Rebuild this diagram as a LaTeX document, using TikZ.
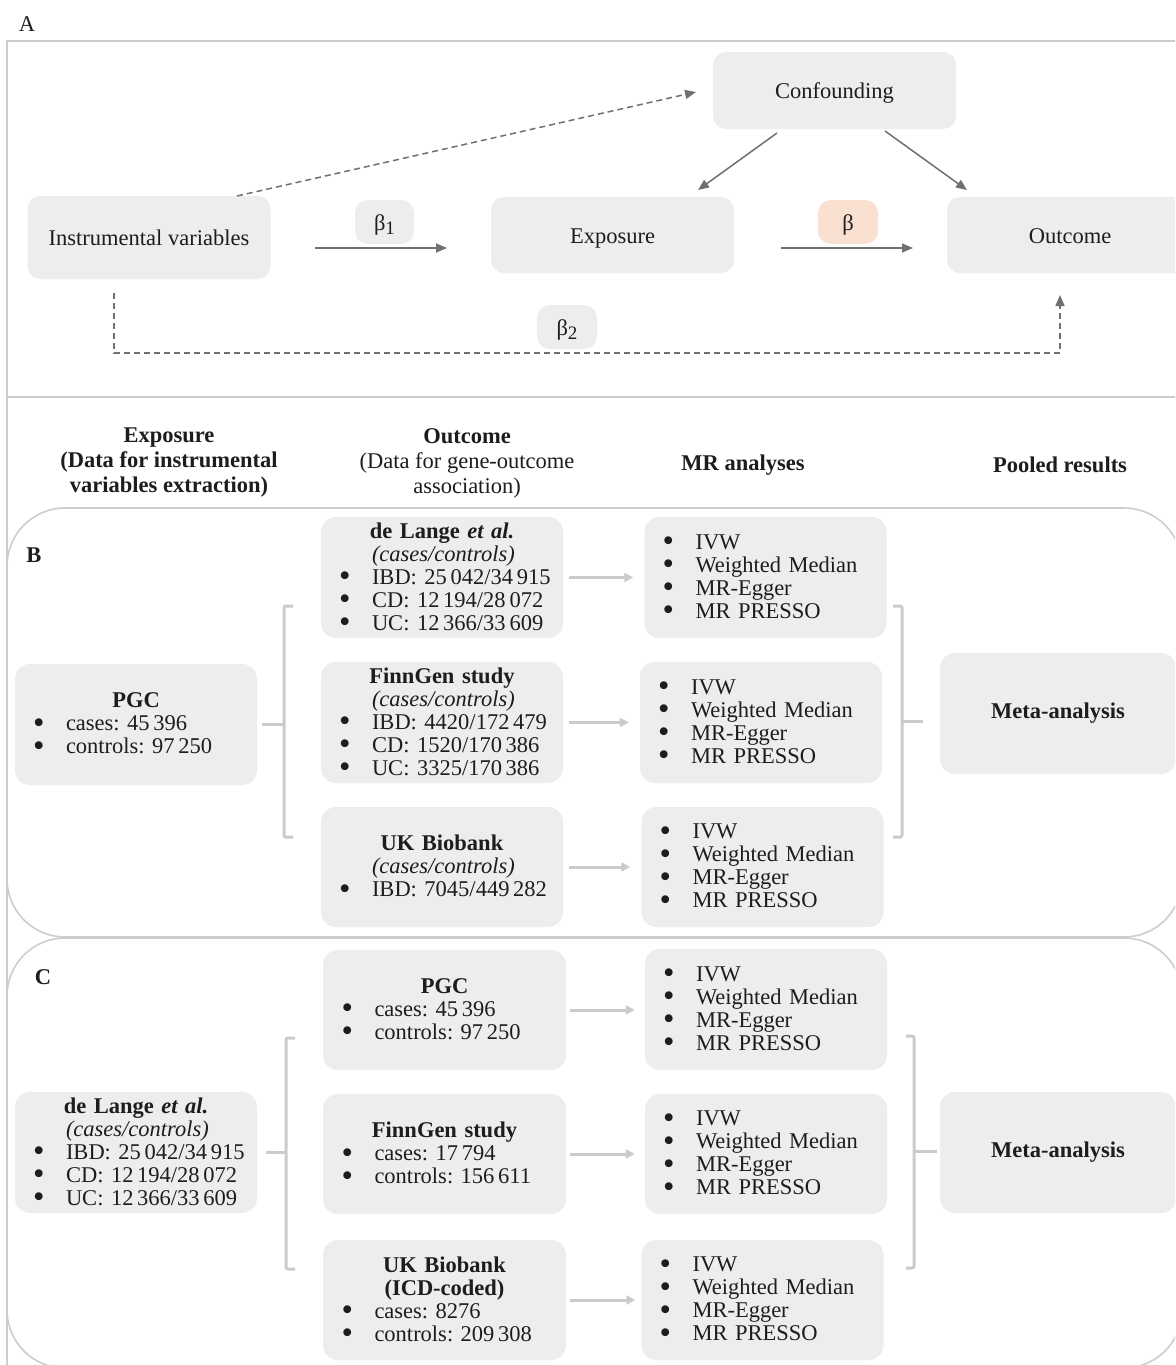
\documentclass[tikz,border=0pt]{standalone}
\usepackage{fontspec}
\setmainfont{Liberation Serif}
\usetikzlibrary{arrows.meta}
\definecolor{boxgray}{HTML}{EDEDED}
\definecolor{peach}{HTML}{F9E0D0}
\definecolor{framegray}{HTML}{CDCDCD}
\definecolor{conngray}{HTML}{CBCBCB}
\definecolor{arrgray}{HTML}{6F7072}
\definecolor{txt}{HTML}{1E1C1D}
\newcommand{\bu}[1]{\mbox{\makebox[33pt][l]{\raisebox{-2.6pt}{\scalebox{1.45}{\textbullet}}}#1}}
\newcommand{\ttl}[1]{\makebox[206pt][c]{#1}}
\newcommand{\ind}[1]{\mbox{\hspace*{33pt}#1}}
\newcommand{\mrlist}{\bu{IVW}\\\bu{Weighted Median}\\\bu{MR-Egger}\\\bu{MR PRESSO}}
\newcommand{\sub}[1]{\raisebox{-4.5pt}{\fontsize{19}{19}\selectfont #1}}
\begin{document}
\frenchspacing
\begin{tikzpicture}[x=1pt,y=-1pt,
  every node/.style={text=txt, font=\fontsize{22.5}{23}\selectfont},
  box/.style={fill=boxgray, rounded corners=13pt, inner sep=0pt, align=center, text height=16pt, text depth=0pt},
  lbox/.style={fill=boxgray, rounded corners=15pt, inner xsep=18pt, inner ysep=0pt, text width=206pt, align=left, minimum width=242pt, minimum height=121pt},
  mbox/.style={fill=boxgray, rounded corners=15pt, inner sep=0pt, align=center, minimum width=236pt, minimum height=121pt, font=\fontsize{22.5}{23}\selectfont\bfseries},
  frame/.style={draw=framegray, line width=1.8pt},
  darr/.style={draw=arrgray, line width=1.5pt, -{Triangle[length=11pt,width=9pt]}},
  dsh/.style={dash pattern=on 6pt off 4pt},
  conn/.style={draw=conngray, line width=3pt, rounded corners=2pt},
  carr/.style={draw=conngray, line width=3pt, -{Triangle[length=9pt,width=9pt]}},
  hdr/.style={font=\fontsize{22.5}{25}\selectfont, align=center},
  lbl/.style={font=\fontsize{22.5}{23}\selectfont}
]
\useasboundingbox (0,0) rectangle (1175,1365);
\clip (0,0) rectangle (1175,1365);
\fill[white] (0,0) rectangle (1175,1365);

% ---------- frames ----------
\draw[frame] (7,1370) -- (7,41) -- (1180,41);
\draw[frame] (7,397) -- (1180,397);
\draw[frame, line width=1.6pt, rounded corners=58pt] (7,508) rectangle (1182,937);
\draw[frame, line width=1.6pt, rounded corners=58pt] (7,938) rectangle (1182,1368);

% ---------- panel A ----------
\node[lbl] (labA) at (27,24) {A};
\node[box, minimum width=243pt, minimum height=83pt] (iv) at (149,237.5) {Instrumental variables};
\node[box, minimum width=59pt, minimum height=44pt] (b1) at (384.5,222) {β\sub{1}};
\node[box, minimum width=243pt, minimum height=76pt] (expo) at (612.5,235) {Exposure};
\node[box, minimum width=243pt, minimum height=77pt] (conf) at (834.5,90.5) {Confounding};
\node[box, fill=peach, minimum width=60pt, minimum height=44pt] (bb) at (848,222) {β};
\node[box, minimum width=246pt, minimum height=76pt] (outc) at (1070,235) {Outcome};
\node[box, minimum width=60pt, minimum height=44pt] (b2) at (567,327) {β\sub{2}};

\coordinate (a1s) at (315,248); \coordinate (a1e) at (447,248);
\coordinate (a2s) at (781,248); \coordinate (a2e) at (913,248);
\coordinate (ivt) at (237,196); \coordinate (confl) at (696,92);
\coordinate (ce1) at (777,133); \coordinate (ce2) at (698,190);
\coordinate (co1) at (885,131); \coordinate (co2) at (967,190);
\coordinate (p1) at (114,293); \coordinate (p2) at (114,353);
\coordinate (p3) at (1060,353); \coordinate (p4) at (1060,295);

\draw[darr] (a1s) -- (a1e);
\draw[darr] (a2s) -- (a2e);
\draw[darr, dsh] (ivt) -- (confl);
\draw[darr] (ce1) -- (ce2);
\draw[darr] (co1) -- (co2);
\draw[darr, dsh] (p1) -- (p2) -- (p3) -- (p4);

% ---------- headers ----------
\node[hdr, font=\fontsize{22.5}{25}\selectfont\bfseries] (hExp) at (169,463) {Exposure\\(Data for instrumental\\variables extraction)};
\node[hdr] (hOut) at (467,463) {\textbf{Outcome}\\(Data for gene-outcome\\association)};
\node[hdr, font=\fontsize{22.5}{25}\selectfont\bfseries] (hMR) at (743,465) {MR analyses};
\node[hdr, font=\fontsize{22.5}{25}\selectfont\bfseries] (hPool) at (1060,465) {Pooled results};

% ---------- panel B ----------
\node[lbl, font=\fontsize{22.5}{23}\selectfont\bfseries] (labB) at (34,555) {B};
\node[lbox] (bPGC) at (136,724.5) {\ttl{\textbf{PGC}}\\\bu{cases: 45\,396}\\\bu{controls: 97\,250}};
\node[lbox] (bLange) at (442,577.5) {\ttl{\textbf{de Lange \textit{et al.}}}\\\ind{\textit{(cases/controls)}}\\\bu{IBD: 25\,042/34\,915}\\\bu{CD: 12\,194/28\,072}\\\bu{UC: 12\,366/33\,609}};
\node[lbox] (bFinn) at (442,722.5) {\ttl{\textbf{FinnGen study}}\\\ind{\textit{(cases/controls)}}\\\bu{IBD: 4420/172\,479}\\\bu{CD: 1520/170\,386}\\\bu{UC: 3325/170\,386}};
\node[lbox, minimum height=120pt] (bUK) at (442,867) {\ttl{\textbf{UK Biobank}}\\\ind{\textit{(cases/controls)}}\\\bu{IBD: 7045/449\,282}};
\node[lbox] (bMR1) at (765.5,577.5) {\mrlist};
\node[lbox] (bMR2) at (761,722.5) {\mrlist};
\node[lbox, minimum height=120pt] (bMR3) at (762.5,867) {\mrlist};
\node[mbox] (bMeta) at (1058,713.5) {Meta-analysis};

\coordinate (bl1) at (293,606); \coordinate (bl2) at (284,606);
\coordinate (bl3) at (284,837); \coordinate (bl4) at (293,837);
\coordinate (blm) at (284,724.5);
\coordinate (br1) at (893,606); \coordinate (br2) at (902,606);
\coordinate (br3) at (902,837); \coordinate (br4) at (893,837);
\coordinate (brm) at (902,721); \coordinate (brm2) at (923,721);

\draw[conn] (bl1) -- (bl2) -- (bl3) -- (bl4);
\draw[conn] ([xshift=5pt]bPGC.east) -- (blm);
\draw[carr] ([xshift=6pt]bLange.east) -- ([xshift=-11pt]bLange.east -| bMR1.west);
\draw[carr] ([xshift=6pt]bFinn.east) -- ([xshift=-11pt]bFinn.east -| bMR2.west);
\draw[carr] ([xshift=6pt]bUK.east) -- ([xshift=-11pt]bUK.east -| bMR3.west);
\draw[conn] (br1) -- (br2) -- (br3) -- (br4);
\draw[conn] (brm) -- (brm2);

% ---------- panel C ----------
\node[lbl, font=\fontsize{22.5}{23}\selectfont\bfseries] (labC) at (43,977) {C};
\node[lbox] (cLange) at (136,1152.5) {\ttl{\textbf{de Lange \textit{et al.}}}\\\ind{\textit{(cases/controls)}}\\\bu{IBD: 25\,042/34\,915}\\\bu{CD: 12\,194/28\,072}\\\bu{UC: 12\,366/33\,609}};
\node[lbox, minimum width=243pt, minimum height=120pt] (cPGC) at (444.5,1010) {\ttl{\textbf{PGC}}\\\bu{cases: 45\,396}\\\bu{controls: 97\,250}};
\node[lbox, minimum width=243pt, minimum height=120pt] (cFinn) at (444.5,1154) {\ttl{\textbf{FinnGen study}}\\\bu{cases: 17\,794}\\\bu{controls: 156\,611}};
\node[lbox, minimum width=243pt, minimum height=120pt] (cUK) at (444.5,1300) {\ttl{\textbf{UK Biobank}}\\\ttl{\textbf{(ICD-coded)}}\\\bu{cases: 8276}\\\bu{controls: 209\,308}};
\node[lbox] (cMR1) at (766,1009.5) {\mrlist};
\node[lbox, minimum height=120pt] (cMR2) at (766,1154) {\mrlist};
\node[lbox, minimum height=120pt] (cMR3) at (762.5,1300) {\mrlist};
\node[mbox] (cMeta) at (1058,1152.5) {Meta-analysis};

\coordinate (cl1) at (295,1038); \coordinate (cl2) at (286,1038);
\coordinate (cl3) at (286,1269); \coordinate (cl4) at (295,1269);
\coordinate (clm) at (286,1152.5);
\coordinate (cr1) at (906,1036); \coordinate (cr2) at (914,1036);
\coordinate (cr3) at (914,1268); \coordinate (cr4) at (906,1268);
\coordinate (crm) at (914,1151); \coordinate (crm2) at (937,1151);

\draw[conn] (cl1) -- (cl2) -- (cl3) -- (cl4);
\draw[conn] ([xshift=9pt]cLange.east) -- (clm);
\draw[carr] ([xshift=4pt]cPGC.east) -- ([xshift=-10pt]cPGC.east -| cMR1.west);
\draw[carr] ([xshift=4pt]cFinn.east) -- ([xshift=-10pt]cFinn.east -| cMR2.west);
\draw[carr] ([xshift=4pt]cUK.east) -- ([xshift=-6pt]cUK.east -| cMR3.west);
\draw[conn] (cr1) -- (cr2) -- (cr3) -- (cr4);
\draw[conn] (crm) -- (crm2);
\end{tikzpicture}
\end{document}
